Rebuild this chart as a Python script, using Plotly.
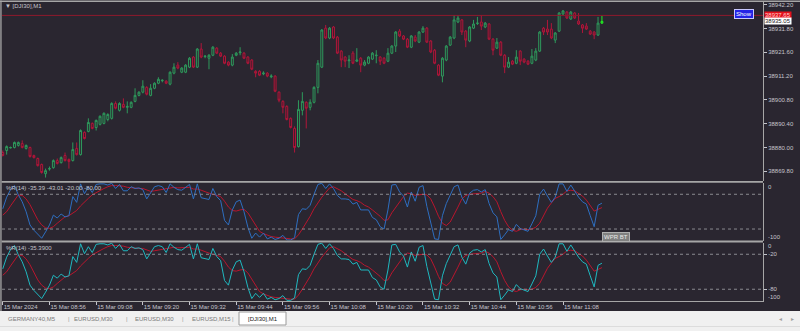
import plotly.graph_objects as go

# ---------------- data ----------------
opens = [38877.9, 38878.8, 38879.9, 38880.1, 38881.0, 38881.8, 38879.7, 38880.1, 38876.6, 38875.3,
         38872.7, 38868.7, 38870.7, 38871.3, 38874.4, 38873.5, 38876.6, 38874.9, 38874.4, 38879.7,
         38877.0, 38886.7, 38887.1, 38890.6, 38888.8, 38890.2, 38890.6, 38892.3, 38892.8, 38899.3,
         38896.3, 38898.9, 38897.6, 38897.6, 38900.2, 38902.8, 38904.2, 38906.3, 38902.8, 38905.9,
         38908.1, 38909.2, 38909.0, 38907.7, 38912.5, 38916.0, 38912.9, 38912.9, 38915.1, 38919.5,
         38915.1, 38923.0, 38919.7, 38919.0, 38920.3, 38923.4, 38921.2, 38919.9, 38917.3, 38916.0,
         38920.3, 38921.4, 38921.2, 38919.5, 38918.2, 38913.3, 38913.3, 38912.2, 38912.5, 38910.9,
         38911.2, 38904.2, 38900.2, 38898.0, 38892.8, 38888.4, 38880.5, 38896.3, 38899.8, 38897.6,
         38899.8, 38906.3, 38915.1, 38932.1, 38927.8, 38932.6, 38928.2, 38922.1, 38919.5, 38917.9,
         38921.2, 38917.7, 38919.0, 38916.0, 38916.8, 38918.6, 38920.1, 38919.5, 38919.0, 38917.7,
         38921.2, 38924.3, 38930.8, 38928.7, 38927.3, 38923.8, 38928.2, 38926.0, 38930.4, 38932.1,
         38926.5, 38922.5, 38916.0, 38911.2, 38918.2, 38924.7, 38927.8, 38934.8, 38935.7, 38930.8,
         38926.5, 38932.1, 38934.1, 38934.8, 38932.6, 38933.9, 38927.3, 38923.4, 38926.0, 38920.3,
         38915.1, 38917.7, 38916.8, 38922.1, 38918.6, 38917.7, 38916.8, 38918.2, 38922.1, 38932.1,
         38931.7, 38931.7, 38926.9, 38930.8, 38938.3, 38939.1, 38936.1, 38938.7, 38935.2, 38933.5,
         38933.0, 38930.8, 38930.4, 38929.1, 38934.3]
highs = [38878.8, 38881.0, 38880.5, 38882.7, 38882.7, 38883.2, 38881.4, 38880.5, 38877.0, 38875.7,
         38873.1, 38870.9, 38871.8, 38874.9, 38875.3, 38876.2, 38877.9, 38875.3, 38882.3, 38882.3,
         38888.0, 38887.1, 38892.8, 38891.0, 38892.3, 38894.1, 38895.4, 38895.0, 38899.8, 38900.2,
         38899.8, 38901.5, 38900.2, 38900.2, 38905.9, 38904.6, 38909.4, 38906.8, 38907.7, 38908.5,
         38910.7, 38909.8, 38909.4, 38913.3, 38916.8, 38917.3, 38915.1, 38916.4, 38919.5, 38919.9,
         38923.4, 38925.6, 38920.3, 38920.8, 38924.3, 38923.8, 38921.7, 38920.3, 38917.7, 38920.8,
         38921.7, 38923.8, 38921.7, 38919.9, 38918.6, 38913.8, 38913.8, 38913.3, 38912.9, 38912.0,
         38911.6, 38904.6, 38900.7, 38898.5, 38893.2, 38889.3, 38900.7, 38904.2, 38900.2, 38901.1,
         38906.8, 38918.2, 38931.7, 38933.5, 38932.6, 38933.0, 38928.7, 38922.5, 38919.9, 38920.3,
         38922.1, 38923.4, 38919.5, 38918.2, 38919.9, 38921.7, 38922.5, 38919.9, 38919.5, 38923.4,
         38924.7, 38930.8, 38931.7, 38929.1, 38927.8, 38929.1, 38929.1, 38930.8, 38933.0, 38932.6,
         38926.9, 38923.0, 38916.4, 38919.5, 38924.7, 38928.7, 38937.8, 38937.8, 38936.1, 38931.3,
         38933.0, 38935.7, 38937.0, 38937.8, 38934.8, 38934.3, 38927.8, 38927.8, 38926.5, 38920.8,
         38919.5, 38918.2, 38922.5, 38922.5, 38919.0, 38918.2, 38923.0, 38923.4, 38930.8, 38932.6,
         38935.7, 38934.3, 38930.4, 38939.1, 38940.0, 38939.6, 38939.6, 38939.1, 38938.7, 38933.9,
         38934.3, 38931.3, 38930.8, 38937.0, 38937.4]
lows = [38876.2, 38877.0, 38879.7, 38879.7, 38880.5, 38879.7, 38879.2, 38875.7, 38875.3, 38871.8,
        38868.7, 38867.0, 38870.0, 38870.9, 38872.7, 38873.1, 38874.0, 38870.9, 38874.0, 38876.6,
        38876.6, 38883.6, 38886.7, 38888.0, 38887.5, 38889.7, 38890.2, 38891.5, 38892.3, 38896.7,
        38895.8, 38897.2, 38895.0, 38897.2, 38899.8, 38902.4, 38903.7, 38902.8, 38902.4, 38905.5,
        38907.7, 38908.5, 38907.7, 38907.2, 38912.0, 38914.2, 38912.5, 38912.5, 38914.7, 38914.7,
        38914.7, 38919.0, 38919.0, 38914.2, 38919.9, 38920.8, 38919.5, 38916.4, 38915.5, 38915.5,
        38919.9, 38920.3, 38918.6, 38916.4, 38913.8, 38910.7, 38911.2, 38911.6, 38910.7, 38910.3,
        38904.2, 38899.8, 38895.0, 38891.9, 38888.4, 38877.9, 38880.1, 38894.1, 38888.4, 38896.3,
        38899.3, 38903.7, 38914.7, 38927.3, 38927.3, 38927.3, 38920.8, 38915.1, 38915.1, 38914.7,
        38916.4, 38917.3, 38912.9, 38915.5, 38916.4, 38918.2, 38916.8, 38916.0, 38916.4, 38917.3,
        38920.8, 38921.7, 38928.2, 38926.9, 38923.4, 38923.4, 38926.0, 38925.6, 38930.0, 38925.6,
        38921.2, 38916.4, 38911.2, 38908.5, 38917.7, 38924.3, 38927.3, 38934.3, 38929.1, 38923.8,
        38926.0, 38931.7, 38933.5, 38931.3, 38932.1, 38926.9, 38920.3, 38923.0, 38919.9, 38912.5,
        38914.7, 38916.0, 38916.4, 38916.0, 38916.8, 38916.0, 38916.4, 38917.7, 38921.7, 38929.1,
        38929.1, 38927.3, 38925.6, 38930.4, 38937.8, 38936.1, 38935.7, 38936.1, 38933.5, 38930.0,
        38931.3, 38929.1, 38927.3, 38928.7, 38933.9]
closes = [38876.6, 38880.5, 38880.1, 38882.3, 38882.3, 38880.1, 38881.0, 38876.2, 38875.7, 38872.2,
          38869.2, 38870.0, 38870.9, 38874.4, 38873.1, 38875.7, 38874.4, 38874.0, 38879.2, 38877.0,
          38887.5, 38884.0, 38891.0, 38888.4, 38891.9, 38893.7, 38895.0, 38894.5, 38899.3, 38897.2,
          38899.3, 38897.6, 38898.0, 38899.8, 38902.8, 38904.2, 38906.8, 38903.3, 38905.9, 38908.1,
          38909.8, 38909.4, 38908.1, 38912.9, 38915.1, 38914.7, 38914.7, 38916.0, 38919.0, 38915.1,
          38923.0, 38919.5, 38919.9, 38920.3, 38923.8, 38921.2, 38919.9, 38916.8, 38916.0, 38919.5,
          38921.2, 38921.7, 38919.0, 38916.8, 38914.2, 38912.5, 38911.6, 38912.5, 38911.2, 38911.2,
          38904.6, 38900.7, 38897.6, 38892.3, 38888.8, 38880.1, 38896.7, 38900.2, 38897.2, 38899.8,
          38906.3, 38916.8, 38931.3, 38927.8, 38932.1, 38927.8, 38921.2, 38918.2, 38917.7, 38918.2,
          38916.8, 38918.2, 38916.0, 38917.3, 38919.5, 38921.2, 38920.3, 38917.7, 38916.8, 38921.2,
          38924.3, 38930.4, 38928.7, 38927.3, 38923.8, 38928.7, 38926.5, 38930.4, 38932.1, 38926.0,
          38921.7, 38916.8, 38911.6, 38919.0, 38924.3, 38928.2, 38935.7, 38936.5, 38930.4, 38926.9,
          38932.6, 38933.9, 38934.3, 38933.0, 38934.3, 38927.3, 38922.5, 38926.0, 38920.3, 38915.1,
          38917.3, 38916.4, 38919.5, 38917.7, 38917.3, 38916.4, 38919.9, 38922.1, 38930.4, 38930.4,
          38930.4, 38927.8, 38930.0, 38938.7, 38939.6, 38936.5, 38939.1, 38936.5, 38933.9, 38932.1,
          38931.7, 38929.5, 38929.1, 38934.3, 38935.05]

wpr = [-45, -25, -12, -5, -21, -33, -50, -73, -82, -90, -96, -85, -73, -56, -61, -54, -59,
       -57, -24, -34, -2, -19, -7, -17, -3,
       -2, -2, -4, -1, -10, -3, -14, -14, -7, -10, -9, -12, -28, -18, -7, -5, -7, -17, -2, -8,
       -12, -13, -8, -3, -28, -2, -26, -28, -29, -10, -24, -31, -65, -73, -47, -33, -30, -50, -77, -96,
       -87, -94, -87, -97, -94, -98, -96, -91, -99, -99,
       -95, -55, -45, -46, -39, -20, -3, -1, -10, -2,
       -10, -22, -28, -28, -29, -37, -34, -47, -47, -47,
       -60, -64, -76, -80, -47, -4, -3, -16, -23, -42,
       -16, -32, -8, -5, -41, -67, -97, -98, -57, -36,
       -20, -7, -4, -25, -37, -18, -13, -12, -16, -12,
       -36, -52, -59, -98, -90, -81, -84, -72, -79, -81,
       -84, -71, -57, -20, -11, -23, -34, -25, -2, -2,
       -15, -4, -15, -25, -33, -37, -57, -76, -39, -35.39]
signal = [-56, -50, -40, -30, -21, -22, -28, -38, -52, -64, -73, -78, -79, -76, -70, -64, -59,
          -57, -53, -48, -40, -33, -27, -21, -17,
          -13, -10, -7, -5, -5, -5, -6, -8, -9, -10, -10, -10, -13, -15, -14, -13, -11, -10, -9, -8,
          -9, -9, -9, -8, -11, -11, -13, -16, -18, -20, -22, -24, -32, -42, -48, -49, -47, -46, -52, -63,
          -75, -84, -88, -91, -93, -94, -95, -95, -96, -97,
          -97, -90, -80, -70, -58, -45, -34, -25, -17, -9,
          -7, -10, -14, -19, -24, -29, -31, -34, -39, -42,
          -47, -52, -58, -65, -64, -52, -42, -32, -24, -18,
          -19, -22, -21, -20, -21, -28, -42, -58, -70, -74,
          -68, -56, -42, -28, -22, -20, -19, -19, -18, -15,
          -18, -24, -33, -50, -65, -76, -82, -84, -81, -80,
          -81, -80, -77, -70, -56, -44, -35, -27, -24, -20,
          -14, -13, -14, -18, -23, -30, -40, -49, -46, -43.01]

level_hi, level_lo = -20, -80
price_ticks = [38942.20, 38931.80, 38921.60, 38911.20, 38900.80, 38890.40, 38880.00, 38869.80]
time_tick_bars = [0, 12, 24, 36, 48, 60, 72, 84, 96, 108, 120, 132, 144]
time_labels = ["15 Mar 2024", "15 Mar 08:56", "15 Mar 09:08", "15 Mar 09:20", "15 Mar 09:32",
               "15 Mar 09:44", "15 Mar 09:56", "15 Mar 10:08", "15 Mar 10:20", "15 Mar 10:32",
               "15 Mar 10:44", "15 Mar 10:56", "15 Mar 11:08"]
ask_line = 38937.65
bid_price = 38935.05
tabs = ["GERMANY40,M5", "EURUSD,M30", "EURUSD,M30", "EURUSD,M15", "[DJI30],M1"]

# ---------------- style ----------------
W, H = 800, 331
BG = "#2a2630"
GREEN = "#2e9a5c"
RED = "#b0163a"
BLUE = "#2e6fc0"
CYAN = "#1fb8c0"
SIG = "#b8162e"
TXT = "#c4c4cc"
FRAME = "#a6a6a6"
FONT = "Liberation Sans"

def fx(p):
    return p / W

def fy(p):
    return 1 - p / H

X0, X1 = 2, 763
main_dom = [fy(181), fy(2)]
p2_dom = [fy(240.6), fy(182.7)]
p3_dom = [fy(300.9), fy(242.6)]
xrange_ = [-0.2, 195.4]

bars = list(range(len(opens)))
fig = go.Figure()

fig.add_trace(go.Candlestick(
    x=bars[:-1], open=opens[:-1], high=highs[:-1], low=lows[:-1], close=closes[:-1],
    increasing=dict(line=dict(color=GREEN, width=1), fillcolor=BG),
    decreasing=dict(line=dict(color=RED, width=1), fillcolor="#3a1e2a"),
    whiskerwidth=0, hoverinfo="skip", xaxis="x", yaxis="y", showlegend=False))
fig.add_trace(go.Candlestick(
    x=bars[-1:], open=opens[-1:], high=highs[-1:], low=lows[-1:], close=closes[-1:],
    increasing=dict(line=dict(color="#22ee22", width=1), fillcolor=BG),
    decreasing=dict(line=dict(color=RED, width=1), fillcolor=BG),
    whiskerwidth=0, hoverinfo="skip", xaxis="x", yaxis="y", showlegend=False))

for ax, col in (("2", BLUE), ("3", CYAN)):
    fig.add_trace(go.Scatter(x=list(range(len(signal))), y=signal, mode="lines",
                             line=dict(color=SIG, width=1), xaxis="x" + ax, yaxis="y" + ax,
                             hoverinfo="skip", showlegend=False))
    fig.add_trace(go.Scatter(x=list(range(len(wpr))), y=wpr, mode="lines",
                             line=dict(color=col, width=1), xaxis="x" + ax, yaxis="y" + ax,
                             hoverinfo="skip", showlegend=False))

common_y = dict(side="right", showgrid=False, zeroline=False, showline=True, linecolor=FRAME,
                linewidth=1, ticks="outside", ticklen=3, tickcolor=TXT,
                tickfont=dict(family=FONT, size=6, color=TXT))
fig.update_layout(
    width=W, height=H, margin=dict(l=0, r=0, t=0, b=0),
    paper_bgcolor=BG, plot_bgcolor=BG, showlegend=False,
    xaxis=dict(domain=[fx(X0), fx(X1)], range=xrange_, anchor="y", showticklabels=False,
               showgrid=False, zeroline=False, rangeslider=dict(visible=False), ticks=""),
    xaxis2=dict(domain=[fx(X0), fx(X1)], range=xrange_, anchor="y2", matches="x",
                showticklabels=False, showgrid=False, zeroline=False, ticks=""),
    xaxis3=dict(domain=[fx(X0), fx(X1)], range=xrange_, anchor="y3", matches="x",
                showgrid=False, zeroline=False, showline=True, linecolor=FRAME, linewidth=1,
                tickvals=time_tick_bars, ticktext=time_labels, ticks="outside", ticklen=3,
                tickcolor=TXT, ticklabelposition="outside right",
                tickfont=dict(family=FONT, size=6, color=TXT)),
    yaxis=dict(domain=main_dom, range=[38865.5, 38943.5], anchor="x",
               tickvals=price_ticks, ticktext=[f"{v:.2f}" for v in price_ticks], **common_y),
    yaxis2=dict(domain=p2_dom, range=[-100, 0], anchor="x2", showticklabels=False, **{k: v for k, v in common_y.items() if k not in ("ticks",)}, ticks=""),
    yaxis3=dict(domain=p3_dom, range=[-100, 0], anchor="x3",
                tickvals=[level_hi, level_lo], ticktext=[str(level_hi), str(level_lo)], **common_y),
)

shapes = []
# level lines
for ax in ("2", "3"):
    for lv in (level_hi, level_lo):
        shapes.append(dict(type="line", xref="x" + ax + " domain", yref="y" + ax, x0=0, x1=1,
                           y0=lv, y1=lv, line=dict(color="#8a8a90", width=1, dash="dot")))
# ask line
shapes.append(dict(type="line", xref="x domain", yref="y", x0=0, x1=1, y0=ask_line, y1=ask_line,
                   line=dict(color="#8e1a2c", width=1)))
# frame / separators
def rect(x0, y0, x1, y1, color):
    return dict(type="rect", xref="paper", yref="paper", x0=fx(x0), x1=fx(x1), y0=fy(y1), y1=fy(y0),
                fillcolor=color, line=dict(width=0), layer="above")
shapes += [
    rect(0, 0.5, 800, 2, FRAME),
    rect(0.3, 0.5, 1.6, 311, FRAME),
    rect(1.6, 181, 763, 182.7, FRAME),
    rect(1.6, 240.6, 763, 242.4, FRAME),
    rect(0, 311, 800, 331, "#f0f0f0"),
    rect(0, 326, 800, 327, "#dcdcdc"),
    rect(239, 312, 286, 325, "#ffffff"),
]
shapes.append(dict(type="rect", xref="paper", yref="paper", x0=fx(239), x1=fx(286), y0=fy(325), y1=fy(312),
                   line=dict(color="#9a9a9a", width=1), fillcolor="rgba(0,0,0,0)"))
fig.update_layout(shapes=shapes)

ann = []
def text(x, y, s, color=TXT, size=6, xanchor="left", **kw):
    ann.append(dict(xref="paper", yref="paper", x=fx(x), y=fy(y), text=s, showarrow=False,
                    xanchor=xanchor, yanchor="middle", font=dict(family=FONT, size=size, color=color), **kw))

text(3, 6, "▼ [DJI30],M1")
text(4, 187.5, f"%R(14) {wpr[-1]:.2f} {signal[-1]:.2f} {level_hi:.2f} {level_lo:.2f}")
text(4, 247.5, f"%R(14) {wpr[-1]:.4f}")
# pane edge labels
text(766, 186.7, "0")
text(766, 237.3, "-100")
text(766, 246.2, "0")
text(766, 297.3, "-100")
# buttons
text(743.5, 14, "Show", color="#ffffff", xanchor="center", bgcolor="#2323e6", bordercolor="#c8c8ff",
     borderwidth=1, borderpad=1)
text(615.5, 236.5, "WPR BT", color="#e8e8e8", xanchor="center", bgcolor="#808080", bordercolor="#b0b0b0",
     borderwidth=1, borderpad=1)
# price labels
ann.append(dict(xref="paper", yref="y", x=fx(764), y=ask_line, text=f"{ask_line:.2f}", showarrow=False,
                xanchor="left", yanchor="middle", bgcolor="#e4101c", borderpad=0,
                font=dict(family=FONT, size=6, color="#ffd0d0")))
ann.append(dict(xref="paper", yref="y", x=fx(764), y=bid_price, text=f"{bid_price:.2f}", showarrow=False,
                xanchor="left", yanchor="middle", bgcolor="#ffffff", borderpad=0,
                font=dict(family=FONT, size=6, color="#202020")))
# tabs
tab_x = [31.5, 93.5, 154, 211, 262.5]
sep_x = [69, 127, 183, 233]
for s, x in zip(tabs, tab_x):
    text(x, 319, s, color="#202020" if s == tabs[-1] else "#7a7a7a", xanchor="center")
for x in sep_x:
    text(x, 319, "|", color="#9a9a9a", xanchor="center")
text(780, 319, "◂", color="#a0a0a0", xanchor="center")
text(792, 319, "▸", color="#a0a0a0", xanchor="center")
fig.update_layout(annotations=ann)

fig.write_html("out.html")
